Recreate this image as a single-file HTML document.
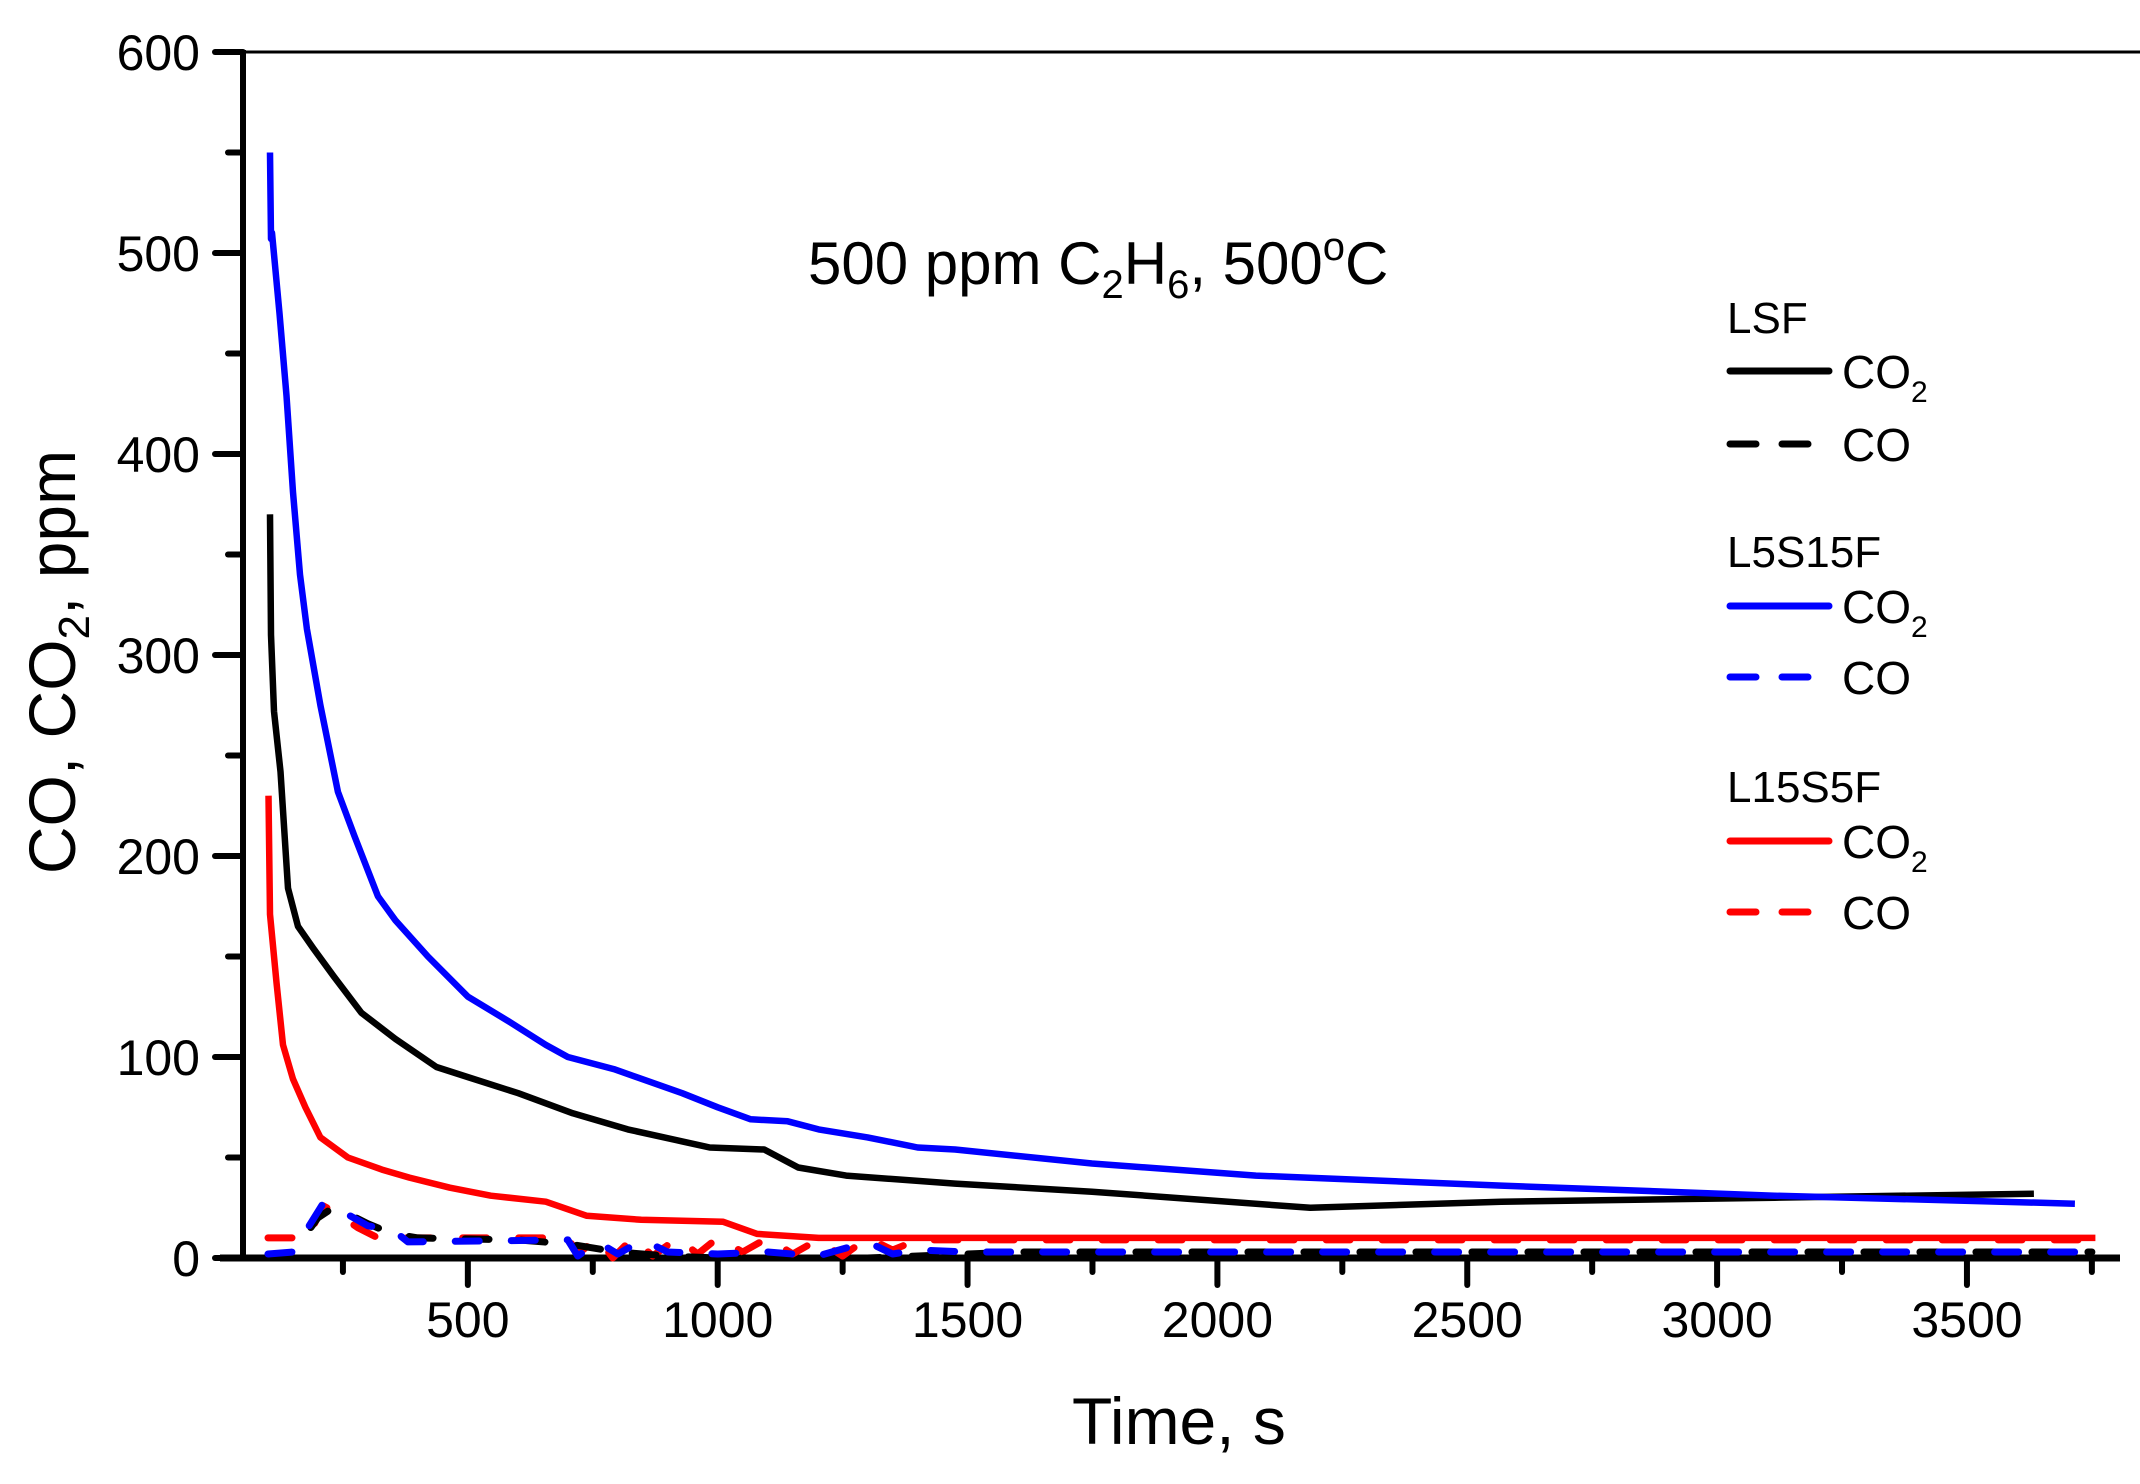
<!DOCTYPE html>
<html><head><meta charset="utf-8"><style>
html,body{margin:0;padding:0;background:#fff;}
svg{display:block;font-family:"Liberation Sans",Arial,sans-serif;}
</style></head><body>
<svg id="s" width="2140" height="1484" viewBox="0 0 2140 1484" xmlns="http://www.w3.org/2000/svg">
<rect width="2140" height="1484" fill="#fff"/>
<line x1="243" y1="52" x2="2140" y2="52" stroke="#000" stroke-width="3"/>
<line x1="243" y1="50" x2="243" y2="1260" stroke="#000" stroke-width="6"/>
<line x1="220" y1="1258" x2="2120" y2="1258" stroke="#000" stroke-width="7"/>
<g id="ticks" stroke="#000" stroke-width="6" stroke-linecap="round"></g>
<g id="labels" font-size="50" fill="#000"></g>
<g id="series" fill="none" stroke-linejoin="round"></g>
<text x="808" y="284" font-size="60">500 ppm C<tspan font-size="40" dy="14">2</tspan><tspan dy="-14">H</tspan><tspan font-size="40" dy="14">6</tspan><tspan dy="-14">, 500</tspan><tspan font-size="40" dy="-24">o</tspan><tspan dy="24">C</tspan></text>
<text x="1179" y="1444" font-size="66" text-anchor="middle">Time, s</text>
<text transform="translate(75,662) rotate(-90)" font-size="66" text-anchor="middle">CO, CO<tspan font-size="44" dy="14">2</tspan><tspan dy="-14">, ppm</tspan></text>
<g font-size="44">
<text x="1727" y="333">LSF</text>
<text x="1727" y="567">L5S15F</text>
<text x="1727" y="802">L15S5F</text>
</g>
<g font-size="46">
<text x="1842" y="388">CO<tspan font-size="30" dy="14">2</tspan></text>
<text x="1842" y="461">CO</text>
<text x="1842" y="623">CO<tspan font-size="30" dy="14">2</tspan></text>
<text x="1842" y="694">CO</text>
<text x="1842" y="858">CO<tspan font-size="30" dy="14">2</tspan></text>
<text x="1842" y="929">CO</text>
</g>
<g stroke-width="7" stroke-linecap="round">
<line x1="1730" y1="371" x2="1829" y2="371" stroke="#000"/>
<line x1="1730" y1="444" x2="1756" y2="444" stroke="#000"/><line x1="1782" y1="444" x2="1808" y2="444" stroke="#000"/>
<line x1="1730" y1="606" x2="1829" y2="606" stroke="#00f"/>
<line x1="1730" y1="677" x2="1756" y2="677" stroke="#00f"/><line x1="1782" y1="677" x2="1808" y2="677" stroke="#00f"/>
<line x1="1730" y1="841" x2="1829" y2="841" stroke="#f00"/>
<line x1="1730" y1="912" x2="1756" y2="912" stroke="#f00"/><line x1="1782" y1="912" x2="1808" y2="912" stroke="#f00"/>
</g>
</svg>
<script>
var NS="http://www.w3.org/2000/svg";
function X(t){return 218+0.4997*t;}
function Y(v){return 1258-2.01*v;}
function el(p,tag,a,txt){var e=document.createElementNS(NS,tag);for(var k in a)e.setAttribute(k,a[k]);if(txt!=null)e.textContent=txt;p.appendChild(e);return e;}
var tk=document.getElementById("ticks"),lb=document.getElementById("labels");
for(var v=0;v<=600;v+=50){var maj=v%100==0;el(tk,"line",{x1:maj?215:228,y1:Y(v),x2:243,y2:Y(v)});
 if(maj)el(lb,"text",{x:200,y:Y(v)+18,"text-anchor":"end"},String(v));}
for(var t=250;t<=3750;t+=250){var maj=t%500==0;el(tk,"line",{x1:X(t),y1:1258,x2:X(t),y2:maj?1285:1272});
 if(maj)el(lb,"text",{x:X(t),y:1337,"text-anchor":"middle"},String(t));}
var S=document.getElementById("series");
function path(pts,col,dash){var d="";pts.forEach(function(p,i){d+=(i?"L":"M")+X(p[0]).toFixed(1)+","+Y(p[1]).toFixed(1);});
 var a={d:d,stroke:col,"stroke-width":dash?7:6.5};if(dash){a["stroke-dasharray"]="24 32";a["stroke-linecap"]="round";}el(S,"path",a);}
path([[100,10],[180,10],[210,26],[240,22],[280,15],[320,10],[700,10],[720,2],[760,10],[790,0],[830,10],[870,1],[920,10],[960,2],[1000,10],[1050,3],[1100,10],[1150,2],[1200,9],[1250,1],[1300,10],[1350,4],[1400,9],[3750,9]],"#f00",1);
path([[100,0],[150,3],[200,20],[230,25],[260,22],[300,17],[350,12],[400,10],[600,9],[700,7],[800,3],[900,1],[1000,0],[1300,0],[1500,2],[1600,3],[3750,3]],"#000",1);
path([[100,2],[150,3],[180,15],[210,27],[250,23],[300,16],[350,14],[380,8],[700,9],[720,1],[760,8],[800,2],[850,9],[900,3],[1000,2],[1100,3],[1200,1],[1300,8],[1350,2],[1400,4],[1500,3],[3778,3]],"#00f",1);
path([[101,230],[104,171],[117,137],[130,106],[150,89],[175,75],[205,60],[260,50],[328,44],[383,40],[464,35],[546,31],[656,28],[738,21],[847,19],[1011,18],[1079,12],[1202,10],[3757,10]],"#f00");
path([[104,370],[106,310],[112,272],[125,242],[140,184],[160,165],[191,154],[232,140],[287,122],[355,109],[437,95],[500,90],[601,82],[710,72],[820,64],[929,58],[984,55],[1093,54],[1161,45],[1257,41],[1475,37],[1749,33],[2186,25],[2568,28],[3115,30],[3634,32]],"#000");
path([[104,550],[106,507],[108,510],[123,470],[137,429],[150,381],[164,340],[178,313],[205,275],[240,232],[273,210],[320,180],[355,168],[420,150],[500,130],[580,118],[656,106],[700,100],[792,94],[929,82],[1000,75],[1066,69],[1140,68],[1202,64],[1300,60],[1400,55],[1475,54],[1749,47],[2077,41],[2568,36],[3115,31],[3716,27]],"#00f");
</script>
</body></html>
